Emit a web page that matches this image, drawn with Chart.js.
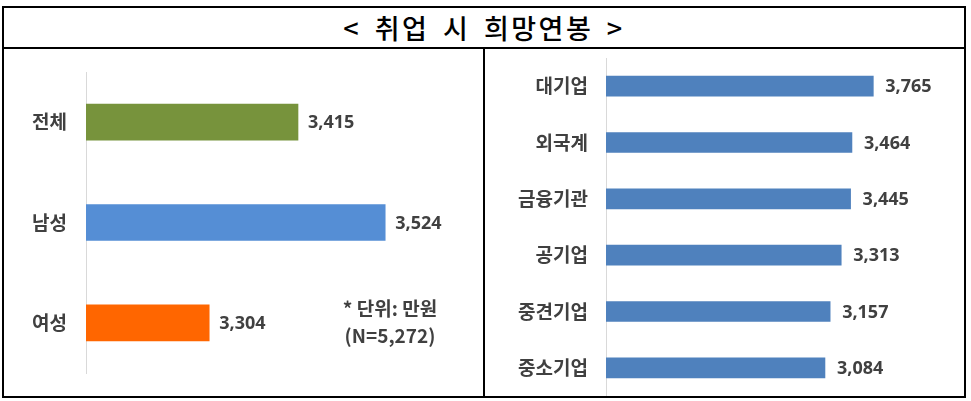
<!DOCTYPE html>
<html>
<head>
<meta charset="utf-8">
<script src="https://cdn.jsdelivr.net/npm/chart.js@4"></script>
<style>
  body { margin: 0; width: 971px; height: 401px; background: #fff; overflow: hidden; position: relative; }
  .frame { position: absolute; left: 2px; top: 6px; width: 964px; height: 392px; border: 2px solid #000; box-sizing: border-box; }
  .sep { position: absolute; left: 2px; top: 47px; width: 964px; height: 2px; background: #000; }
  .divider { position: absolute; left: 483px; top: 47px; width: 2px; height: 351px; background: #000; }
  .title { position: absolute; left: 4px; top: 8px; width: 960px; height: 39px; display: flex; align-items: center; justify-content: center;
           font-family: "Noto Sans CJK KR"; font-weight: 500; font-size: 27px; letter-spacing: 2.5px; word-spacing: 5px; color: #000; }
  .wrap { position: absolute; top: 49px; width: 479px; height: 347px; }
  .note { position: absolute; left: 320px; top: 294px; width: 140px; text-align: center; font-family: "Noto Sans CJK KR"; font-weight: bold;
          font-size: 19px; line-height: 27px; color: #404040; }
</style>
</head>
<body>
<div class="frame"></div>
<div class="sep"></div>
<div class="divider"></div>
<div class="title">&lt; 취업 시 희망연봉 &gt;</div>
<div class="wrap" style="left:4px"><canvas id="leftChart" width="479" height="347"></canvas></div>
<div class="wrap" style="left:485px"><canvas id="rightChart" width="479" height="347"></canvas></div>
<div class="note">* 단위: 만원<br>(N=5,272)</div>
<script>
  const leftLabels = ['전체', '남성', '여성'];
  const leftValues = [3415, 3524, 3304];
  const leftColors = ['#77933C', '#558ED5', '#FF6600'];

  const rightLabels = ['대기업', '외국계', '금융기관', '공기업', '중견기업', '중소기업'];
  const rightValues = [3765, 3464, 3445, 3313, 3157, 3084];
  const rightColor = '#4F81BD';

  const valueLabels = {
    id: 'valueLabels',
    afterDatasetsDraw(chart, args, opts) {
      const ctx = chart.ctx;
      const ds = chart.data.datasets[0];
      ctx.save();
      ctx.font = 'bold 18px "Noto Sans"';
      ctx.fillStyle = '#404040';
      ctx.textBaseline = 'middle';
      chart.getDatasetMeta(0).data.forEach((bar, i) => {
        ctx.fillText(ds.data[i].toLocaleString('en-US'), bar.x + opts.gap, bar.y + 1);
      });
      ctx.restore();
    }
  };

  function makeChart(id, labels, values, colors, o) {
    return new Chart(document.getElementById(id), {
      type: 'bar',
      data: {
        labels: labels,
        datasets: [{ data: values, backgroundColor: colors, barThickness: o.thick }]
      },
      options: {
        indexAxis: 'y',
        responsive: false,
        animation: false,
        layout: { padding: { left: 0, top: o.top, right: o.right, bottom: o.bottom } },
        plugins: { legend: { display: false }, tooltip: { enabled: false }, valueLabels: { gap: o.gap } },
        scales: {
          x: { display: false, min: o.min, max: o.max },
          y: {
            grid: { display: false, drawTicks: false },
            border: { display: true, color: '#d9d9d9', width: 1 },
            ticks: { color: '#404040', padding: o.pad, font: { family: '"Noto Sans CJK KR"', size: 19, weight: 'bold' } },
            afterFit(s) { s.width = o.axisW; s.paddingTop = 0; s.paddingBottom = 0; }
          }
        }
      },
      plugins: [valueLabels]
    });
  }

  makeChart('leftChart', leftLabels, leftValues, leftColors,
    { thick: 36, top: 23, right: 37, bottom: 23, min: 3150, max: 3600, axisW: 82, pad: 19, gap: 10 });
  makeChart('rightChart', rightLabels, rightValues, rightColor,
    { thick: 20, top: 9, right: 74, bottom: 0, min: 0, max: 4000, axisW: 121, pad: 18, gap: 12 });
</script>
</body>
</html>
